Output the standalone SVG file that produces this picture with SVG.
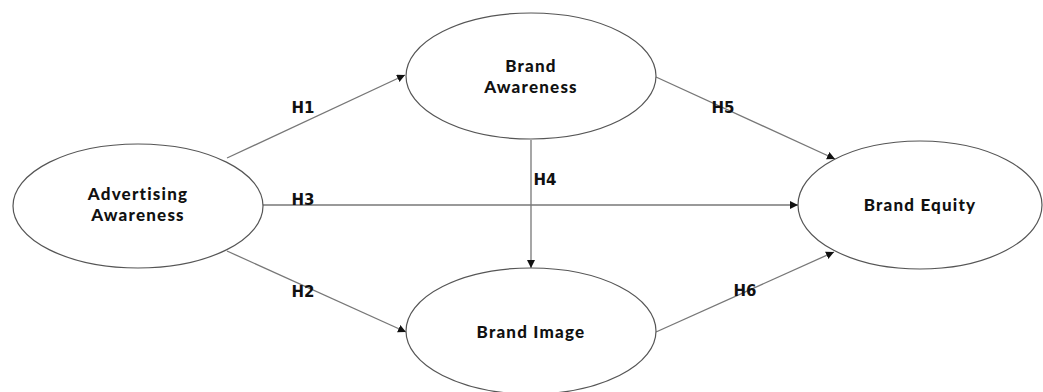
<svg xmlns="http://www.w3.org/2000/svg" width="1043" height="392" viewBox="0 0 1043 392">
<style>
.node ellipse{fill:#fff;stroke:#555;stroke-width:1.2}
.node text{font-family:Lato,"Open Sans","Liberation Sans",sans-serif;font-weight:900;font-size:17px;letter-spacing:1.2px;fill:#111;text-anchor:middle}
.edge line{stroke:#777;stroke-width:1.3}
.lbl{font-family:"DejaVu Sans",sans-serif;font-weight:bold;font-size:15px;fill:#111;text-anchor:middle}
</style>
<defs>
<marker id="arr" viewBox="0 0 10 10" refX="10" refY="5" markerWidth="8" markerHeight="8" markerUnits="userSpaceOnUse" orient="auto">
<path d="M0,0 L10,5 L0,10 z" fill="#111"/>
</marker>
</defs>
<rect width="1043" height="392" fill="#fff"/>
<g id="connectors" class="edge">
<line x1="227" y1="158" x2="405" y2="75" marker-end="url(#arr)"/>
<line x1="227" y1="251" x2="406" y2="332" marker-end="url(#arr)"/>
<line x1="263" y1="205" x2="798" y2="205" marker-end="url(#arr)"/>
<line x1="531" y1="140" x2="531" y2="268" marker-end="url(#arr)"/>
<line x1="656" y1="77" x2="835" y2="159" marker-end="url(#arr)"/>
<line x1="656" y1="332" x2="834" y2="252" marker-end="url(#arr)"/>
</g>
<g id="labels">
<text class="lbl" x="303" y="113">H1</text>
<text class="lbl" x="303" y="297">H2</text>
<text class="lbl" x="303" y="205">H3</text>
<text class="lbl" x="545" y="185">H4</text>
<text class="lbl" x="723" y="113">H5</text>
<text class="lbl" x="745" y="296">H6</text>
</g>
<g id="advertising-awareness" class="node">
<ellipse cx="138" cy="206" rx="125" ry="62"/>
<text x="138" y="200">Advertising</text>
<text x="138" y="221">Awareness</text>
</g>
<g id="brand-awareness" class="node">
<ellipse cx="531" cy="76" rx="125" ry="63"/>
<text x="531" y="72">Brand</text>
<text x="531" y="93">Awareness</text>
</g>
<g id="brand-image" class="node">
<ellipse cx="531" cy="331" rx="125" ry="63"/>
<text x="531" y="338">Brand Image</text>
</g>
<g id="brand-equity" class="node">
<ellipse cx="920" cy="205" rx="122" ry="64"/>
<text x="920" y="211">Brand Equity</text>
</g>
</svg>
